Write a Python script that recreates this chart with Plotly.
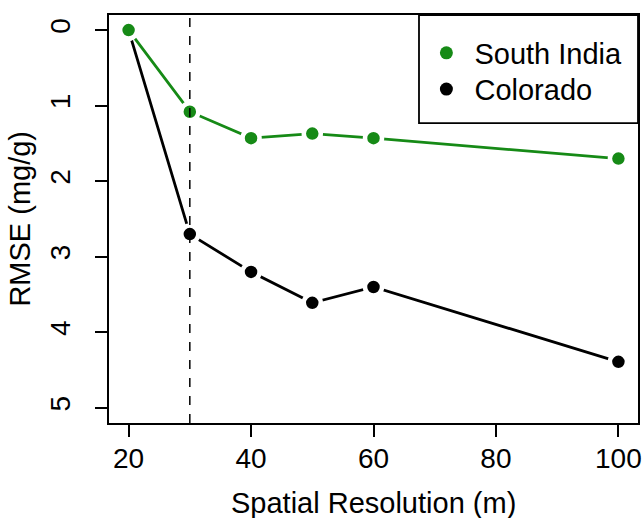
import plotly.graph_objects as go

resolution = [20, 30, 40, 50, 60, 100]
south_india = [0.0, 1.08, 1.43, 1.37, 1.43, 1.70]
colorado = [0.0, 2.70, 3.20, 3.61, 3.40, 4.39]
x_ticks = [20, 40, 60, 80, 100]
y_ticks = [0, 1, 2, 3, 4, 5]
cutoff = 30

GREEN = "#168a16"
FONT = "Liberation Sans, Arial, sans-serif"

fig = go.Figure()
fig.add_trace(go.Scatter(
    x=resolution, y=colorado, name="Colorado", mode="lines+markers",
    showlegend=False,
    line=dict(color="black", width=2.8),
    marker=dict(color="black", size=17, line=dict(color="white", width=4.5)),
))
fig.add_trace(go.Scatter(
    x=resolution, y=south_india, name="South India", mode="lines+markers",
    showlegend=False,
    line=dict(color=GREEN, width=2.8),
    marker=dict(color=GREEN, size=17, line=dict(color="white", width=4.5)),
))
# legend entries (points only, as in the original)
fig.add_trace(go.Scatter(x=[None], y=[None], name=" South India", mode="markers",
                         marker=dict(color=GREEN, size=13), legend="legend"))
fig.add_trace(go.Scatter(x=[None], y=[None], name=" Colorado", mode="markers",
                         marker=dict(color="black", size=13), legend="legend2"))

fig.add_shape(type="line", x0=cutoff, x1=cutoff, y0=0, y1=1, yref="paper",
              line=dict(color="black", width=1.5, dash="dash"), layer="above")
# legend box
fig.add_shape(type="rect", xref="paper", yref="paper",
              x0=0.586, x1=1.0, y0=0.735, y1=1.0,
              line=dict(color="black", width=1.8), fillcolor="rgba(0,0,0,0)")

fig.add_annotation(text="Spatial Resolution (m)", xref="paper", yref="paper",
                   x=0.5, y=-0.196, xanchor="center", yanchor="middle",
                   showarrow=False, font=dict(size=29))
fig.add_annotation(text="RMSE (mg/g)", xref="paper", yref="paper",
                   x=-0.169, y=0.5, xanchor="center", yanchor="middle",
                   textangle=-90, showarrow=False, font=dict(size=29))

leg = dict(xanchor="left", yanchor="middle", bgcolor="rgba(0,0,0,0)",
           borderwidth=0, font=dict(size=29))

fig.update_layout(
    width=644, height=518,
    margin=dict(l=109, r=6, t=15, b=95, autoexpand=False),
    paper_bgcolor="white", plot_bgcolor="white",
    font=dict(family=FONT, size=28, color="black"),
    showlegend=True,
    legend=dict(x=0.600, y=0.907, **leg),
    legend2=dict(x=0.600, y=0.818, **leg),
    xaxis=dict(range=[16.8, 103.2], tickvals=x_ticks, showgrid=False,
               zeroline=False, showline=True, mirror=True, linecolor="black",
               linewidth=1.8, ticks="outside", ticklen=12, tickwidth=1.8,
               tickcolor="black", ticklabelstandoff=-3, automargin=False),
    yaxis=dict(range=[5.2, -0.2], tickvals=y_ticks, showgrid=False,
               zeroline=False, showline=True, mirror=True, linecolor="black",
               linewidth=1.8, ticks="outside", ticklen=12, tickwidth=1.8,
               tickcolor="black", tickangle=-90, ticklabelstandoff=14,
               automargin=False),
)

fig.write_html("out.html")
